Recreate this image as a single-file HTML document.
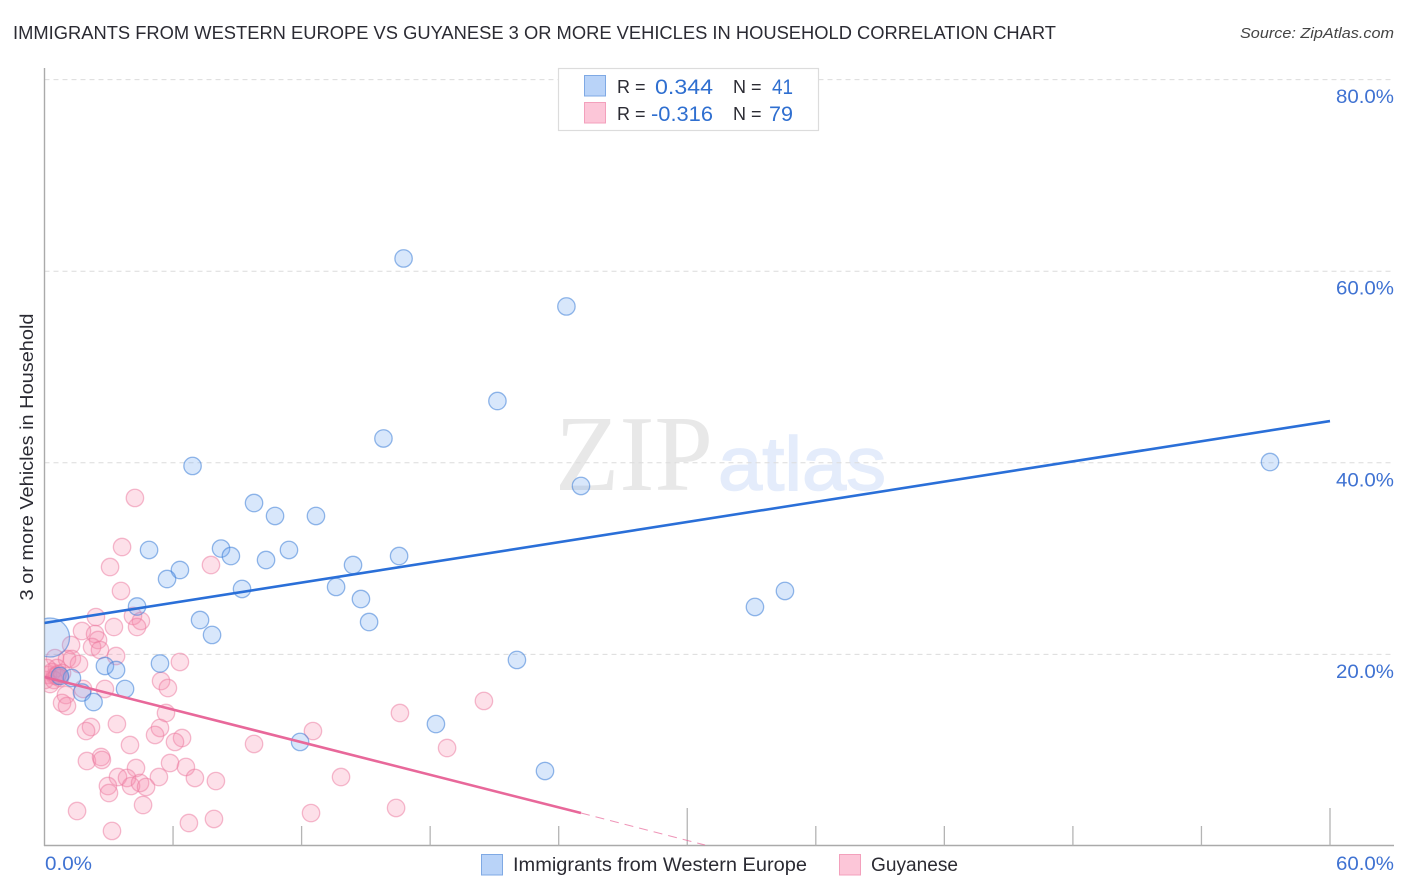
<!DOCTYPE html>
<html lang="en">
<head>
<meta charset="utf-8">
<title>Immigrants from Western Europe vs Guyanese Correlation Chart</title>
<style>
html,body{margin:0;padding:0;background:#fff;}
svg{display:block;font-family:"Liberation Sans",sans-serif;}
</style>
</head>
<body>
<svg id="chart" xmlns="http://www.w3.org/2000/svg" width="1406" height="892" viewBox="0 0 1406 892">
  <defs><clipPath id="plot-clip"><rect x="44.5" y="60" width="1350" height="785.5"/></clipPath></defs>
  <rect width="1406" height="892" fill="#fff"/>
  <text x="13" y="39" font-size="18.6" fill="#2b2b33" textLength="1043" lengthAdjust="spacingAndGlyphs">IMMIGRANTS FROM WESTERN EUROPE VS GUYANESE 3 OR MORE VEHICLES IN HOUSEHOLD CORRELATION CHART</text>
  <text x="1394" y="38" font-size="15" font-style="italic" fill="#444" text-anchor="end" textLength="154" lengthAdjust="spacingAndGlyphs">Source: ZipAtlas.com</text>

  <g>
    <text x="555" y="490" font-family="'Liberation Serif',serif" font-size="108" fill="#e8e8e8" textLength="158" lengthAdjust="spacingAndGlyphs">ZIP</text>
    <text x="718" y="490" font-size="76" fill="#e4ecfb" stroke="#e4ecfb" stroke-width="1.5" textLength="168" lengthAdjust="spacingAndGlyphs">atlas</text>
  </g>

  <g id="grid"></g>
  <g id="axes"></g>
  <g id="ylabels"></g>
  <g id="xlabels"></g>
  <g id="pink-points" clip-path="url(#plot-clip)"></g>
  <g id="blue-points" clip-path="url(#plot-clip)"></g>
  <g id="trends" clip-path="url(#plot-clip)"></g>

  <text transform="translate(33,457) rotate(-90)" font-size="18.5" fill="#2b2b33" text-anchor="middle" textLength="287" lengthAdjust="spacingAndGlyphs">3 or more Vehicles in Household</text>

  <g>
    <rect x="558.5" y="68.5" width="260" height="62" fill="#fff" stroke="#dcdcdc" stroke-width="1.2"/>
    <rect x="584.5" y="75.5" width="21" height="20.5" fill="#b9d3f8" stroke="#7fa9e4" stroke-width="1"/>
    <rect x="584.5" y="102.5" width="21" height="20.5" fill="#fcc6d8" stroke="#f3a0bc" stroke-width="1"/>
    <text x="617" y="93" font-size="18" fill="#2b2b33">R =</text>
    <text x="655" y="94" font-size="21.5" fill="#2f6fd0" textLength="58" lengthAdjust="spacingAndGlyphs">0.344</text>
    <text x="733" y="93" font-size="18" fill="#2b2b33">N =</text>
    <text x="772" y="94" font-size="21.5" fill="#2f6fd0" textLength="21" lengthAdjust="spacingAndGlyphs">41</text>
    <text x="617" y="120" font-size="18" fill="#2b2b33">R =</text>
    <text x="651" y="121" font-size="21.5" fill="#2f6fd0" textLength="62" lengthAdjust="spacingAndGlyphs">-0.316</text>
    <text x="733" y="120" font-size="18" fill="#2b2b33">N =</text>
    <text x="769" y="121" font-size="21.5" fill="#2f6fd0" textLength="24" lengthAdjust="spacingAndGlyphs">79</text>
  </g>

  <g>
    <rect x="481.5" y="854.5" width="21" height="20.5" fill="#b9d3f8" stroke="#7fa9e4" stroke-width="1"/>
    <text x="513" y="871" font-size="19" fill="#2b2b33" textLength="294" lengthAdjust="spacingAndGlyphs">Immigrants from Western Europe</text>
    <rect x="839.5" y="854.5" width="21" height="20.5" fill="#fcc6d8" stroke="#f3a0bc" stroke-width="1"/>
    <text x="871" y="871" font-size="19" fill="#2b2b33" textLength="87" lengthAdjust="spacingAndGlyphs">Guyanese</text>
  </g>
</svg>
<script>
const yTickValues = [20, 40, 60, 80];
const yTickLabels = ["20.0%", "40.0%", "60.0%", "80.0%"];
const xTickValues = [6, 12, 18, 24, 30, 36, 42, 48, 54, 60];
const xMajorTicks = [30, 60];
const xEndLabels = ["0.0%", "60.0%"];

const blueX = [16.76,24.36,21.14,15.82,6.91,57.20,25.04,9.78,10.76,12.67,4.88,8.24,8.70,11.41,10.34,16.55,14.40,6.32,5.72,9.22,13.61,14.77,4.32,7.26,15.15,7.82,33.16,34.56,22.05,5.39,2.82,3.34,1.28,3.76,1.75,2.29,18.27,11.93,23.36,0.26,0.72];
const blueY = [61.33,56.32,46.45,42.54,39.67,40.08,37.58,35.80,34.45,34.45,30.90,31.05,30.27,30.90,29.85,30.27,29.33,28.81,27.87,26.83,27.04,25.78,25.00,23.59,23.38,22.03,24.95,26.62,19.42,19.05,18.79,18.37,17.54,16.39,16.02,15.03,12.73,10.86,7.83,21.76,17.75];
const blueWeight = [1,1,1,1,1,1,1,1,1,1,1,1,1,1,1,1,1,1,1,1,1,1,1,1,1,1,1,1,1,1,1,1,1,1,1,1,1,1,1,5,1];

const pinkX = [4.22,3.62,3.06,7.77,3.57,2.40,4.13,4.50,4.32,3.24,1.75,2.36,2.50,2.22,1.24,2.59,3.34,6.32,0.49,1.05,1.28,1.61,0.58,0.16,0.49,0.63,0.26,5.44,5.76,2.82,1.80,1.00,0.82,1.05,5.67,12.53,9.78,3.38,2.17,1.94,5.39,5.16,6.42,6.09,3.99,1.98,2.64,2.68,5.86,6.60,4.27,3.43,3.85,5.34,7.02,8.00,2.96,3.01,4.04,4.46,4.74,4.60,1.52,3.15,6.74,7.91,12.44,13.84,20.51,16.59,18.79,16.41,0.02,0.35,0.72,0.12,0.44,0.82,0.58];
const pinkY = [36.33,31.21,29.12,29.33,26.62,23.90,24.01,23.49,22.86,22.86,22.44,22.13,21.50,20.77,20.98,20.46,19.83,19.21,19.62,19.52,19.52,19.00,18.58,17.85,17.75,17.95,16.91,17.22,16.49,16.39,16.39,15.76,14.93,14.61,13.88,12.00,10.65,12.73,12.42,12.00,12.32,11.59,11.27,10.86,10.54,8.87,9.29,8.98,8.66,8.25,8.14,7.20,7.10,7.20,7.10,6.78,6.26,5.53,6.26,6.58,6.16,4.28,3.65,1.57,2.40,2.82,3.44,7.20,15.14,13.88,10.23,3.97,17.33,18.16,17.54,18.58,17.33,18.06,17.75];

const blueTrendX = [0, 60];
const blueTrendY = [23.28, 44.36];
const pinkTrendX = [0, 25.04];
const pinkTrendY = [17.64, 3.44];
const pinkTrendExtX = [25.04, 30.83];
const pinkTrendExtY = [3.44, 0.1];

const xScale = v => 44.5 + v * 21.425;
const yScale = v => 846 - v * 9.58;
const NS = "http://www.w3.org/2000/svg";
function mk(tag, parentId, attrs, text) {
  const el = document.createElementNS(NS, tag);
  for (const k in attrs) el.setAttribute(k, attrs[k]);
  if (text !== undefined) el.textContent = text;
  document.getElementById(parentId).appendChild(el);
  return el;
}

yTickValues.forEach((v, i) => {
  const g = mk("line", "grid", {x1: 44.5, x2: 1394, y1: yScale(v), y2: yScale(v), stroke: "#dcdcdc", "stroke-width": 1, "stroke-dasharray": "5 4"});
  
  
  const t = mk("text", "ylabels", {x: 1394, y: yScale(v) + 23.5, "font-size": 19.5, fill: "#3f72d2", "text-anchor": "end", textLength: 58, lengthAdjust: "spacingAndGlyphs"}, yTickLabels[i]);
  
  
});

const yAxis = mk("line", "axes", {x1: 44.5, x2: 44.5, y1: 68, y2: 846, stroke: "#aaa", "stroke-width": 1.4});


const xAxis = mk("line", "axes", {x1: 44, x2: 1394, y1: 845.5, y2: 845.5, stroke: "#aaa", "stroke-width": 1.4});


xTickValues.forEach(v => {
  const top = xMajorTicks.includes(v) ? 808 : 826;
  const tk = mk("line", "axes", {x1: xScale(v), x2: xScale(v), y1: top, y2: 845.5, stroke: "#b4b4b4", "stroke-width": 1.3});
  
  
});
const x0 = mk("text", "xlabels", {x: 45, y: 870, "font-size": 19.5, fill: "#3f72d2", textLength: 47, lengthAdjust: "spacingAndGlyphs"}, xEndLabels[0]);


const x1 = mk("text", "xlabels", {x: 1394, y: 870, "font-size": 19.5, fill: "#3f72d2", "text-anchor": "end", textLength: 58, lengthAdjust: "spacingAndGlyphs"}, xEndLabels[1]);



pinkX.forEach((v, i) => {
  const c = mk("circle", "pink-points", {cx: xScale(v), cy: yScale(pinkY[i]), r: 8.7, fill: "rgba(247,140,172,0.27)", stroke: "rgba(236,120,158,0.5)", "stroke-width": 1.3});
  
  
});
blueX.forEach((v, i) => {
  const c = mk("circle", "blue-points", {cx: xScale(v), cy: yScale(blueY[i]), r: 8.7 * Math.sqrt(blueWeight[i]), fill: "rgba(110,165,240,0.27)", stroke: "rgba(60,125,215,0.55)", "stroke-width": 1.3});
  
  
});

const lb = mk("line", "trends", {x1: xScale(blueTrendX[0]), y1: yScale(blueTrendY[0]), x2: xScale(blueTrendX[1]), y2: yScale(blueTrendY[1]), stroke: "#2a6fd8", "stroke-width": 2.6});


const lp = mk("line", "trends", {x1: xScale(pinkTrendX[0]), y1: yScale(pinkTrendY[0]), x2: xScale(pinkTrendX[1]), y2: yScale(pinkTrendY[1]), stroke: "#e8689a", "stroke-width": 2.6});


const lpe = mk("line", "trends", {x1: xScale(pinkTrendExtX[0]), y1: yScale(pinkTrendExtY[0]), x2: xScale(pinkTrendExtX[1]), y2: yScale(pinkTrendExtY[1]), stroke: "#e8689a", "stroke-opacity": 0.7, "stroke-width": 1, "stroke-dasharray": "9 6"});


</script>
</body>
</html>
